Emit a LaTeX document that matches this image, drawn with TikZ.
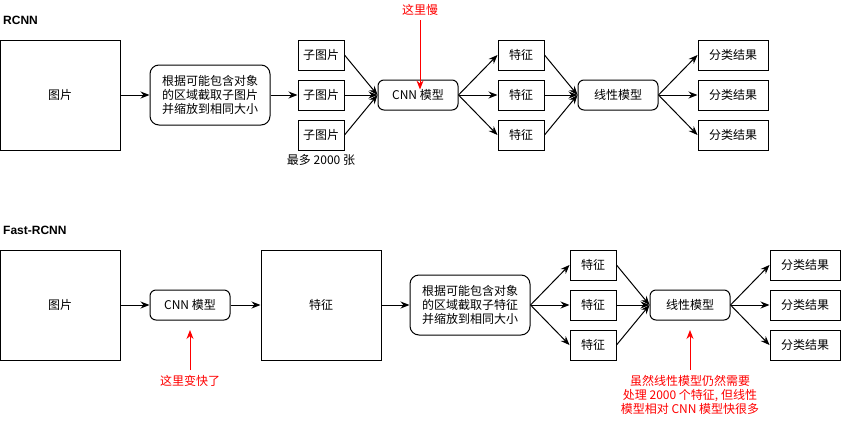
\documentclass[tikz,border=0pt]{standalone}
\usepackage{fontspec}
\setmainfont{Noto Sans CJK SC}
\newfontfamily\titlefont{Liberation Sans}
\usetikzlibrary{arrows.meta}
\begin{document}
\begin{tikzpicture}[x=1pt,y=-1pt,
  font=\fontsize{12}{15}\selectfont,
  box/.style={draw,line width=1pt,minimum width=#1,inner sep=0pt,align=center},
  rbox/.style={draw,line width=1pt,rounded corners=6pt,inner sep=0pt,align=center},
  arr/.style={line width=1pt,-{Stealth[length=9pt,width=7pt]}},
  rarr/.style={line width=1pt,draw=red,-{Stealth[length=9pt,width=7pt]}},
  rtext/.style={text=red,align=center,inner sep=0pt},
  ttl/.style={font=\titlefont\bfseries\fontsize{12}{14}\selectfont,anchor=west,inner sep=0pt}]
\useasboundingbox (0,0) rectangle (841,421);
% ---------------- RCNN ----------------
\node[ttl] (t1) at (3,20) {RCNN};
\node[box=120pt,minimum height=110pt] (img1) at (60,95) {图片};
\node[rbox,minimum width=120pt,minimum height=60pt,rounded corners=9pt] (crop1) at (210,95) {根据可能包含对象\\[-1pt]的区域截取子图片\\[-1pt]并缩放到相同大小};
\node[box=46pt,minimum height=30pt] (s1) at (321,55) {子图片};
\node[box=46pt,minimum height=30pt] (s2) at (321,95) {子图片};
\node[box=46pt,minimum height=30pt] (s3) at (321,135) {子图片};
\node[inner sep=0pt] (most) at (321,160) {最多 2000 张};
\node[rbox,minimum width=80pt,minimum height=30pt] (cnn1) at (418,95) {CNN 模型};
\node[rtext] (slow) at (420,10) {这里慢};
\coordinate (slowa) at (420,20);
\node[box=46pt,minimum height=30pt] (f1) at (521,55) {特征};
\node[box=46pt,minimum height=30pt] (f2) at (521,95) {特征};
\node[box=46pt,minimum height=30pt] (f3) at (521,135) {特征};
\node[rbox,minimum width=80pt,minimum height=30pt] (lin1) at (618,95) {线性模型};
\node[box=70pt,minimum height=30pt] (c1) at (733,55) {分类结果};
\node[box=70pt,minimum height=30pt] (c2) at (733,95) {分类结果};
\node[box=70pt,minimum height=30pt] (c3) at (733,135) {分类结果};
\draw[arr] (img1) -- (crop1);
\draw[arr] (crop1) -- (s2);
\foreach \s in {s1,s2,s3} \draw[arr] (\s.east) -- (cnn1.west);
\foreach \s in {f1,f2,f3} \draw[arr] (cnn1.east) -- (\s.west);
\foreach \s in {f1,f2,f3} \draw[arr] (\s.east) -- (lin1.west);
\foreach \s in {c1,c2,c3} \draw[arr] (lin1.east) -- (\s.west);
\draw[rarr] (slowa) -- ([yshift=-10pt]cnn1.north -| slowa);
% ---------------- Fast-RCNN ----------------
\node[ttl] (t2) at (3,230) {Fast-RCNN};
\node[box=120pt,minimum height=110pt] (img2) at (60,305) {图片};
\node[rbox,minimum width=80pt,minimum height=30pt] (cnn2) at (190,305) {CNN 模型};
\node[box=120pt,minimum height=110pt] (feat) at (321,305) {特征};
\node[rbox,minimum width=120pt,minimum height=60pt,rounded corners=9pt] (crop2) at (470,305) {根据可能包含对象\\[-1pt]的区域截取子特征\\[-1pt]并缩放到相同大小};
\node[box=46pt,minimum height=30pt] (g1) at (593,265) {特征};
\node[box=46pt,minimum height=30pt] (g2) at (593,305) {特征};
\node[box=46pt,minimum height=30pt] (g3) at (593,345) {特征};
\node[rbox,minimum width=80pt,minimum height=30pt] (lin2) at (690,305) {线性模型};
\node[box=70pt,minimum height=30pt] (d1) at (805,265) {分类结果};
\node[box=70pt,minimum height=30pt] (d2) at (805,305) {分类结果};
\node[box=70pt,minimum height=30pt] (d3) at (805,345) {分类结果};
\node[rtext] (fast) at (190,381) {这里变快了};
\coordinate (fasta) at (190,370);
\node[rtext] (note) at (690,395) {虽然线性模型仍然需要\\[-1pt]处理 2000 个特征, 但线性\\[-1pt]模型相对 CNN 模型快很多};
\coordinate (notea) at (690,370);
\draw[arr] (img2) -- (cnn2);
\draw[arr] (cnn2) -- (feat);
\draw[arr] (feat) -- (crop2);
\foreach \s in {g1,g2,g3} \draw[arr] (crop2.east) -- (\s.west);
\foreach \s in {g1,g2,g3} \draw[arr] (\s.east) -- (lin2.west);
\foreach \s in {d1,d2,d3} \draw[arr] (lin2.east) -- (\s.west);
\draw[rarr] (fasta) -- (190,330);
\draw[rarr] (notea) -- (690,330);
\end{tikzpicture}
\end{document}
